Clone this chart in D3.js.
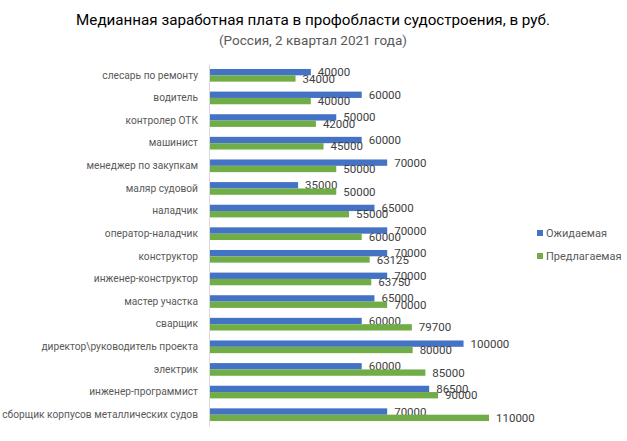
<!DOCTYPE html>
<html>
<head>
<meta charset="utf-8">
<script src="https://cdn.jsdelivr.net/npm/d3@7"></script>
<style>
  body { margin: 0; background: #fff; }
  text { font-family: Roboto, "Liberation Sans", sans-serif; }
</style>
</head>
<body>
<script>
var categories = ["слесарь по ремонту", "водитель", "контролер ОТК", "машинист", "менеджер по закупкам",
  "маляр судовой", "наладчик", "оператор-наладчик", "конструктор", "инженер-конструктор",
  "мастер участка", "сварщик", "директор\\руководитель проекта", "электрик", "инженер-программист",
  "сборщик корпусов металлических судов"];
var expected = [40000, 60000, 50000, 60000, 70000, 35000, 65000, 70000, 70000, 70000, 65000, 60000, 100000, 60000, 86500, 70000];
var offered = [34000, 40000, 42000, 45000, 50000, 50000, 55000, 60000, 63125, 63750, 70000, 79700, 80000, 85000, 90000, 110000];
var seriesNames = ["Ожидаемая", "Предлагаемая"];
var colors = ["#4472C4", "#70AD47"];

var width = 627, height = 441;
var svg = d3.select("body").append("svg").attr("width", width).attr("height", height);

var x = d3.scaleLinear().domain([0, 110000]).range([209, 489]);
var y = d3.scaleBand().domain(categories).range([64, 426]).paddingInner(0.44).paddingOuter(0.22);
var ys = d3.scaleBand().domain([0, 1]).range([0, y.bandwidth()]);

svg.append("text").attr("x", 313).attr("y", 25).attr("text-anchor", "middle")
  .style("font-size", "15.2px").style("fill", "#000")
  .text("Медианная заработная плата в профобласти судостроения, в руб.");
svg.append("text").attr("x", 313).attr("y", 45).attr("text-anchor", "middle")
  .style("font-size", "13.5px").style("fill", "#595959")
  .text("(Россия,  2 квартал 2021 года)");

var series = [expected, offered];
series.forEach(function (vals, s) {
  var g = svg.append("g");
  g.selectAll("rect").data(vals).enter().append("rect")
    .attr("x", x(0))
    .attr("y", function (d, i) { return y(categories[i]) + ys(s); })
    .attr("width", function (d) { return x(d) - x(0); })
    .attr("height", ys.bandwidth())
    .attr("fill", colors[s]);
  g.selectAll("text").data(vals).enter().append("text")
    .attr("x", function (d) { return x(d) + 7; })
    .attr("y", function (d, i) { return y(categories[i]) + ys(s) + ys.bandwidth() / 2; })
    .attr("dy", "0.35em")
    .style("font-size", "11.5px").style("fill", "#404040")
    .text(function (d) { return d; });
});

// category axis
var axis = svg.append("g").attr("transform", "translate(" + x(0) + ",0)")
  .call(d3.axisLeft(y).tickSize(0).tickPadding(11));
axis.select(".domain").attr("stroke", "#d9d9d9");
axis.selectAll("text").style("font-size", "10.2px").style("fill", "#595959")
  .style("font-family", "Roboto, \"Liberation Sans\", sans-serif");

// legend
var legend = svg.append("g");
seriesNames.forEach(function (n, i) {
  var ly = 233 + i * 23;
  legend.append("rect").attr("x", 537).attr("y", ly - 3).attr("width", 6).attr("height", 6).attr("fill", colors[i]);
  legend.append("text").attr("x", 546).attr("y", ly).attr("dy", "0.35em")
    .style("font-size", "11px").style("fill", "#595959").text(n);
});
</script>
</body>
</html>
